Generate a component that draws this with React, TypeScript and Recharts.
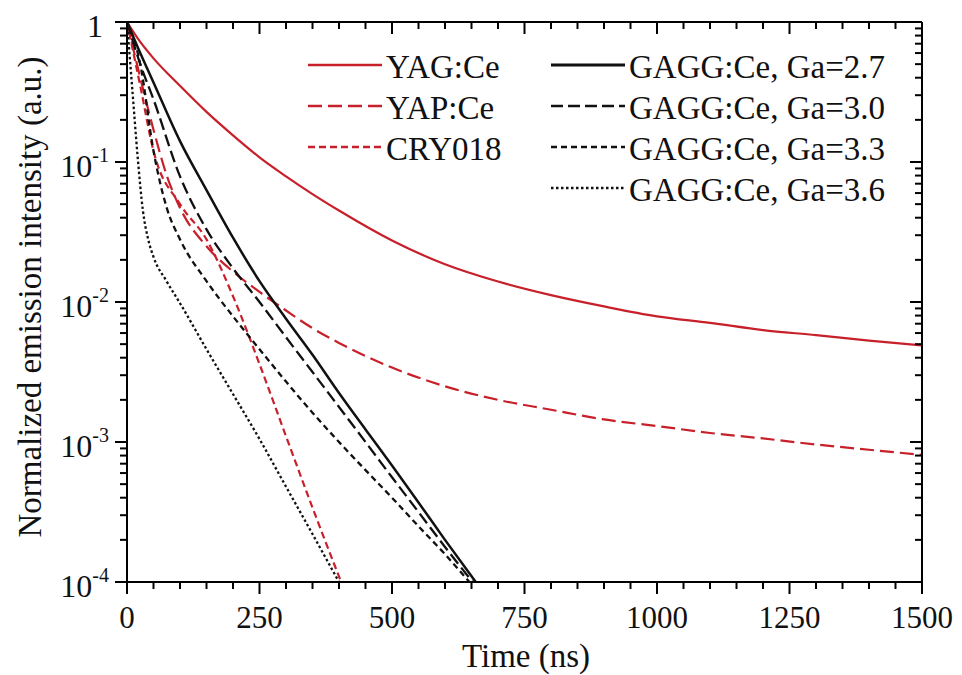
import React from 'react';
import { LineChart, Line, XAxis, YAxis } from 'recharts';

const RED = '#c8202a';
const BLACK = '#111111';
const FONT = "'Liberation Serif', 'DejaVu Serif', serif";

// time (ns) and normalized intensity
const yagT = [0, 25, 50, 100, 150, 200, 250, 300, 350, 400, 500, 600, 700, 800, 900, 1000, 1100, 1200, 1300, 1400, 1500];
const yagI = [1, 0.72, 0.55, 0.35, 0.228, 0.155, 0.108, 0.079, 0.059, 0.045, 0.0275, 0.0186, 0.014, 0.0112, 0.0093, 0.0079, 0.0071, 0.0063, 0.0058, 0.0053, 0.0049];

const yapT = [0, 25, 50, 75, 100, 150, 200, 250, 300, 350, 400, 500, 600, 700, 800, 900, 1000, 1100, 1200, 1300, 1400, 1500];
const yapI = [1, 0.4, 0.17, 0.08, 0.047, 0.025, 0.0165, 0.0118, 0.0087, 0.0065, 0.0051, 0.0034, 0.0025, 0.002, 0.0017, 0.00145, 0.0013, 0.00116, 0.00106, 0.00096, 0.00088, 0.00081];

const cryT = [0, 25, 50, 100, 150, 200, 250, 300, 350, 404];
const cryI = [1, 0.35, 0.12, 0.05, 0.028, 0.011, 0.0036, 0.0011, 0.00034, 0.0001];

const ga27T = [0, 25, 50, 100, 150, 200, 250, 300, 350, 400, 450, 500, 550, 600, 658];
const ga27I = [1, 0.6, 0.37, 0.141, 0.063, 0.0288, 0.0141, 0.0076, 0.0042, 0.00224, 0.00123, 0.00068, 0.00037, 0.0002, 0.0001];

const ga30T = [0, 25, 50, 100, 150, 200, 250, 300, 350, 400, 450, 500, 550, 600, 652];
const ga30I = [1, 0.5, 0.28, 0.079, 0.033, 0.0174, 0.01, 0.0056, 0.00316, 0.00178, 0.001, 0.00056, 0.000316, 0.000178, 0.0001];

const ga33T = [0, 25, 50, 75, 100, 150, 200, 250, 300, 350, 400, 450, 500, 550, 600, 646];
const ga33I = [1, 0.5, 0.12, 0.047, 0.028, 0.0141, 0.0079, 0.0046, 0.0027, 0.00162, 0.001, 0.00063, 0.0004, 0.00025, 0.000158, 0.0001];

const ga36T = [0, 10, 20, 30, 40, 50, 75, 100, 150, 200, 250, 300, 350, 400];
const ga36I = [1, 0.33, 0.11, 0.045, 0.028, 0.021, 0.014, 0.0098, 0.0046, 0.0022, 0.00105, 0.00048, 0.00022, 0.0001];

const xTicks = [0, 50, 100, 150, 200, 250, 300, 350, 400, 450, 500, 550, 600, 650, 700, 750, 800, 850, 900, 950,
  1000, 1050, 1100, 1150, 1200, 1250, 1300, 1350, 1400, 1450, 1500];
const decades = [1e-4, 1e-3, 1e-2, 1e-1, 1];

const pts = (t: number[], v: number[]) => t.map((x, i) => ({ t: x, v: v[i] }));

const series = [
  { name: 'YAG:Ce', data: pts(yagT, yagI), color: RED, dash: undefined, w: 2.2 },
  { name: 'YAP:Ce', data: pts(yapT, yapI), color: RED, dash: '14 6', w: 2.2 },
  { name: 'CRY018', data: pts(cryT, cryI), color: RED, dash: '7 4', w: 2.2 },
  { name: 'GAGG:Ce, Ga=2.7', data: pts(ga27T, ga27I), color: BLACK, dash: undefined, w: 2.5 },
  { name: 'GAGG:Ce, Ga=3.0', data: pts(ga30T, ga30I), color: BLACK, dash: '12 5', w: 2.3 },
  { name: 'GAGG:Ce, Ga=3.3', data: pts(ga33T, ga33I), color: BLACK, dash: '6 4', w: 2.3 },
  { name: 'GAGG:Ce, Ga=3.6', data: pts(ga36T, ga36I), color: BLACK, dash: '2.5 2.5', w: 2.3 },
];

const yTicks: number[] = [];
decades.forEach((d, i) => {
  yTicks.push(d);
  if (i < decades.length - 1) for (let k = 2; k <= 9; k++) yTicks.push(d * k);
});

const isDecade = (v: number) => Math.abs(Math.log10(v) - Math.round(Math.log10(v))) < 1e-6;

const txt = { fontFamily: FONT, fill: '#111' };

const BottomTick = (props: any) => {
  const { x, y, payload } = props;
  const major = payload.value % 250 === 0;
  return (
    <g>
      <line x1={x} x2={x} y1={y} y2={y + (major ? 12 : 7)} stroke="#000" strokeWidth={2} />
      {major && (
        <text x={x} y={y + 35} textAnchor="middle" dominantBaseline="central" fontSize={31} style={txt}>
          {payload.value}
        </text>
      )}
    </g>
  );
};

const TopTick = (props: any) => {
  const { x, y, payload } = props;
  const major = payload.value % 250 === 0;
  return <line x1={x} x2={x} y1={y} y2={y + (major ? 12 : 7)} stroke="#000" strokeWidth={2} />;
};

const LeftTick = (props: any) => {
  const { x, y, payload } = props;
  const major = isDecade(payload.value);
  const exp = Math.round(Math.log10(payload.value));
  return (
    <g>
      <line x1={x} x2={x - (major ? 12 : 7)} y1={y} y2={y} stroke="#000" strokeWidth={2} />
      {major && (
        <text x={x - (exp === 0 ? 24 : 18)} y={y + 4} textAnchor="end" dominantBaseline="central" fontSize={32} style={txt}>
          {exp === 0 ? '1' : (
            <>
              10
              <tspan fontSize={20} dy={-11}>{exp}</tspan>
            </>
          )}
        </text>
      )}
    </g>
  );
};

const RightTick = (props: any) => {
  const { x, y, payload } = props;
  const major = isDecade(payload.value);
  return <line x1={x} x2={x - (major ? 12 : 7)} y1={y} y2={y} stroke="#000" strokeWidth={2} />;
};

const legendRows = [
  { s: 0, col: 0, row: 0 }, { s: 1, col: 0, row: 1 }, { s: 2, col: 0, row: 2 },
  { s: 3, col: 1, row: 0 }, { s: 4, col: 1, row: 1 }, { s: 5, col: 1, row: 2 }, { s: 6, col: 1, row: 3 },
];

const App = () => {
  return (
    <div style={{ position: 'absolute', left: 0, top: 0, width: 962, height: 675, background: '#fff' }}>
      <LineChart width={962} height={675} margin={{ top: 0, right: 0, bottom: 0, left: 0 }}>
        <XAxis xAxisId="b" dataKey="t" type="number" domain={[0, 1500]} ticks={xTicks} interval={0}
          height={93} tickSize={0} tickMargin={0} tickLine={false} tick={<BottomTick />}
          axisLine={{ stroke: '#000', strokeWidth: 2 }} allowDataOverflow />
        <XAxis xAxisId="t" orientation="top" dataKey="t" type="number" domain={[0, 1500]} ticks={xTicks} interval={0}
          height={22} tickSize={0} tickMargin={0} tickLine={false} tick={<TopTick />}
          axisLine={{ stroke: '#000', strokeWidth: 2 }} allowDataOverflow />
        <YAxis yAxisId="l" scale="log" type="number" domain={[1e-4, 1]} ticks={yTicks} interval={0}
          width={127} tickSize={0} tickMargin={0} tickLine={false} tick={<LeftTick />}
          axisLine={{ stroke: '#000', strokeWidth: 2 }} allowDataOverflow />
        <YAxis yAxisId="r" orientation="right" scale="log" type="number" domain={[1e-4, 1]} ticks={yTicks} interval={0}
          width={40} tickSize={0} tickMargin={0} tickLine={false} tick={<RightTick />}
          axisLine={{ stroke: '#000', strokeWidth: 2 }} allowDataOverflow />
        {series.map((s) => (
          <Line key={s.name} xAxisId="b" yAxisId="l" data={s.data} dataKey="v" type="monotone"
            stroke={s.color} strokeWidth={s.w} strokeDasharray={s.dash} dot={false} activeDot={false}
            isAnimationActive={false} />
        ))}
      </LineChart>
      <svg width={962} height={675} style={{ position: 'absolute', left: 0, top: 0, pointerEvents: 'none' }}>
        <text x={526} y={656} textAnchor="middle" dominantBaseline="central" fontSize={33} style={txt}>
          Time (ns)
        </text>
        <text x={30} y={297} transform="rotate(-90 30 297)" textAnchor="middle" dominantBaseline="central"
          fontSize={33} style={txt}>
          Normalized emission intensity (a.u.)
        </text>
        {legendRows.map(({ s, col, row }) => {
          const x0 = col === 0 ? 308 : 551;
          const y = 65 + row * 41;
          const sr = series[s];
          return (
            <g key={sr.name}>
              <line x1={x0} x2={x0 + 74} y1={y} y2={y} stroke={sr.color} strokeWidth={sr.w + 0.4} strokeDasharray={sr.dash} />
              <text x={x0 + 78} y={y + 2} dominantBaseline="central" fontSize={33} style={txt}>
                {sr.name}
              </text>
            </g>
          );
        })}
      </svg>
    </div>
  );
};

export default App;
